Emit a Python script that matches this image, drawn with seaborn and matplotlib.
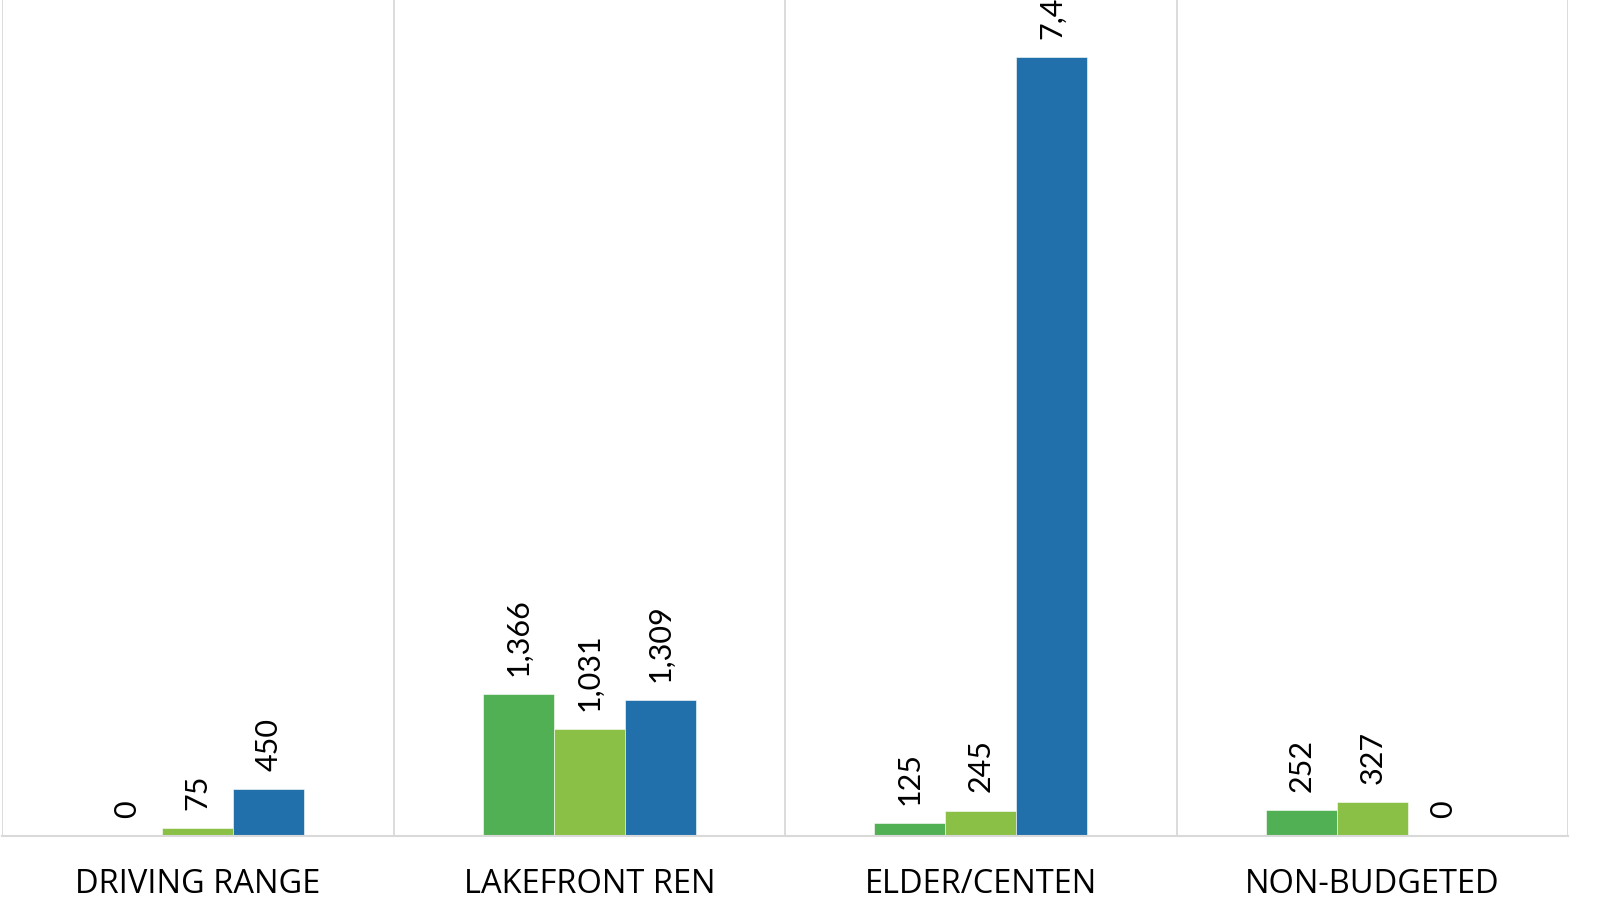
import numpy as np
import matplotlib.pyplot as plt
import pandas as pd
import seaborn as sns

# categories and the three series
categories = ['DRIVING RANGE', 'LAKEFRONT REN', 'ELDER/CENTEN', 'NON-BUDGETED']
series_names = ['Series 1', 'Series 2', 'Series 3']
series1 = [0, 1366, 125, 252]
series2 = [75, 1031, 245, 327]
series3 = [450, 1309, 7490, 0]
colors = ['#52b054', '#8bc046', '#2170ab']

df = pd.DataFrame({
    'category': categories * 3,
    'series': np.repeat(series_names, len(categories)),
    'value': series1 + series2 + series3,
})

sns.set_theme(style='white')
plt.rcParams['font.family'] = ['Lato', 'DejaVu Sans']

fig = plt.figure(figsize=(16, 9.14), dpi=100)
ax = fig.add_axes([2 / 1600, 78 / 914, 1566 / 1600, 836 / 914])

sns.barplot(data=df, x='category', y='value', hue='series', palette=colors,
            width=0.545, gap=0, saturation=1, ax=ax, legend=False,
            edgecolor='white', linewidth=0.4)

# value labels above each bar, rotated like the original
for cont in ax.containers:
    vals = [b.get_height() for b in cont]
    ax.bar_label(cont, labels=[f'{v:,.0f}' for v in vals], rotation=90,
                 padding=13, fontsize=22, color='black')

ax.set_xlim(-0.5, 3.5)
ax.set_ylim(0, 8040)
ax.set_xlabel('')
ax.set_ylabel('')
ax.set_yticks([])

# category separators
ax.set_xticks([-0.5, 0.5, 1.5, 2.5, 3.5], minor=True)
ax.grid(True, which='minor', axis='x', color='#d9d9d9', linewidth=1.3)
ax.tick_params(axis='x', which='both', length=0, pad=23)
for lbl in ax.get_xticklabels():
    lbl.set_family(['Open Sans', 'DejaVu Sans'])
    lbl.set_fontsize(23.5)
    lbl.set_color('black')

for s in ['top', 'right', 'left']:
    ax.spines[s].set_visible(False)
ax.spines['bottom'].set_color('#d9d9d9')
ax.spines['bottom'].set_linewidth(1.5)

fig.savefig('out.png', dpi=100)
